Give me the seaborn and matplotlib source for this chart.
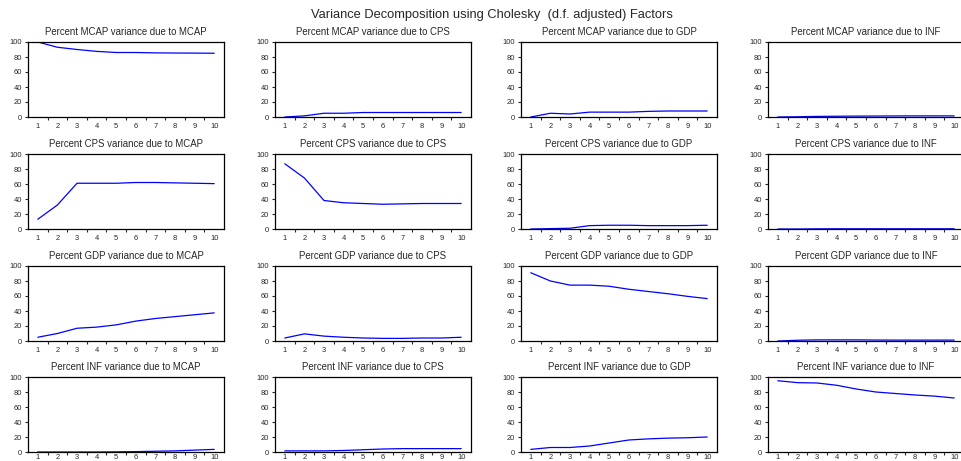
import matplotlib
matplotlib.use("Agg")
import matplotlib.pyplot as plt
import seaborn as sns
import pandas as pd
from matplotlib.ticker import MultipleLocator, FixedLocator

sns.set_style("ticks")
plt.rcParams['font.family'] = ['Liberation Sans', 'DejaVu Sans']

periods = [1, 2, 3, 4, 5, 6, 7, 8, 9, 10]
variables = ["MCAP", "CPS", "GDP", "INF"]

# rows: variance of variable; columns: due to shock
mcap_mcap = [100, 93, 90, 87.5, 86, 86, 85.5, 85.3, 85.2, 85]
mcap_cps = [0, 1.5, 5, 5, 6, 6, 6, 6, 6, 6]
mcap_gdp = [0, 5, 4, 6.5, 6.5, 6.5, 7.5, 8, 8, 8]
mcap_inf = [0, 0.3, 0.8, 1, 1.2, 1.3, 1.4, 1.5, 1.5, 1.5]

cps_mcap = [13, 32, 61, 61, 61, 62, 62, 61.5, 61, 60.5]
cps_cps = [87, 68, 38, 35, 34, 33, 33.5, 34, 34, 34]
cps_gdp = [0, 0.5, 1, 4.5, 5, 5, 4.5, 4.5, 4.5, 5]
cps_inf = [0, 0, 0.2, 0.3, 0.3, 0.3, 0.3, 0.3, 0.3, 0.3]

gdp_mcap = [5, 10, 17, 18.5, 21.5, 26.5, 30, 32.5, 35, 37.5]
gdp_cps = [4, 9.5, 6.5, 5, 4, 3.5, 3.5, 4, 4, 5]
gdp_gdp = [91, 80, 74.5, 74.5, 73, 69, 66, 63, 59.5, 56.5]
gdp_inf = [0, 1, 1.5, 1.5, 1.5, 1.3, 1.2, 1.2, 1.2, 1.2]

inf_mcap = [0, 0, 0, 0, 0.2, 0.5, 1, 1.5, 2.5, 3.5]
inf_cps = [1.5, 1.5, 1.5, 2, 3, 4, 4.5, 4.5, 4.5, 4.5]
inf_gdp = [3.5, 6, 6, 8, 12, 16, 17.5, 18.5, 19, 20]
inf_inf = [95, 92.5, 92, 89, 84, 80, 78, 76, 74.5, 72]

grid = [
    [mcap_mcap, mcap_cps, mcap_gdp, mcap_inf],
    [cps_mcap, cps_cps, cps_gdp, cps_inf],
    [gdp_mcap, gdp_cps, gdp_gdp, gdp_inf],
    [inf_mcap, inf_cps, inf_gdp, inf_inf],
]

W, H = 962, 461
fig = plt.figure(figsize=(W / 100, H / 100), dpi=100)
fig.patch.set_facecolor("white")

lefts = [28, 275, 521, 768]
tops = [42, 154, 266, 377]
aw, ah = 196, 75

for r in range(4):
    for c in range(4):
        ax = fig.add_axes([lefts[c] / W, 1 - (tops[r] + ah) / H, aw / W, ah / H])
        df = pd.DataFrame({"period": periods, "value": grid[r][c]})
        sns.lineplot(data=df, x="period", y="value", ax=ax, color="#0000FF", linewidth=0.9)
        ax.set_xlim(0.5, 10.5)
        ax.set_ylim(0, 100)
        ax.set_xlabel("")
        ax.set_ylabel("")
        ax.set_title(f"Percent {variables[r]} variance due to {variables[c]}", fontsize=6.9, pad=5)
        ax.xaxis.set_major_locator(FixedLocator(periods))
        ax.xaxis.set_minor_locator(FixedLocator([p + 0.5 for p in periods[:-1]]))
        ax.yaxis.set_major_locator(MultipleLocator(20))
        ax.tick_params(axis="x", which="major", length=0, labelsize=5.4,
                       pad=(1.5 if r == 3 else 4))
        ax.tick_params(axis="x", which="minor", length=2.5, width=0.8, direction="out")
        ax.tick_params(axis="y", which="major", length=2.5, width=0.8, labelsize=5.4, pad=2)
        for s in ax.spines.values():
            s.set_visible(True)
            s.set_color("black")
            s.set_linewidth(0.9)
        ax.set_facecolor("white")

fig.text(492 / W, 1 - 15 / H, "Variance Decomposition using Cholesky  (d.f. adjusted) Factors",
         ha="center", va="center", fontsize=9.3)

fig.savefig("out.png", dpi=100, facecolor="white")
